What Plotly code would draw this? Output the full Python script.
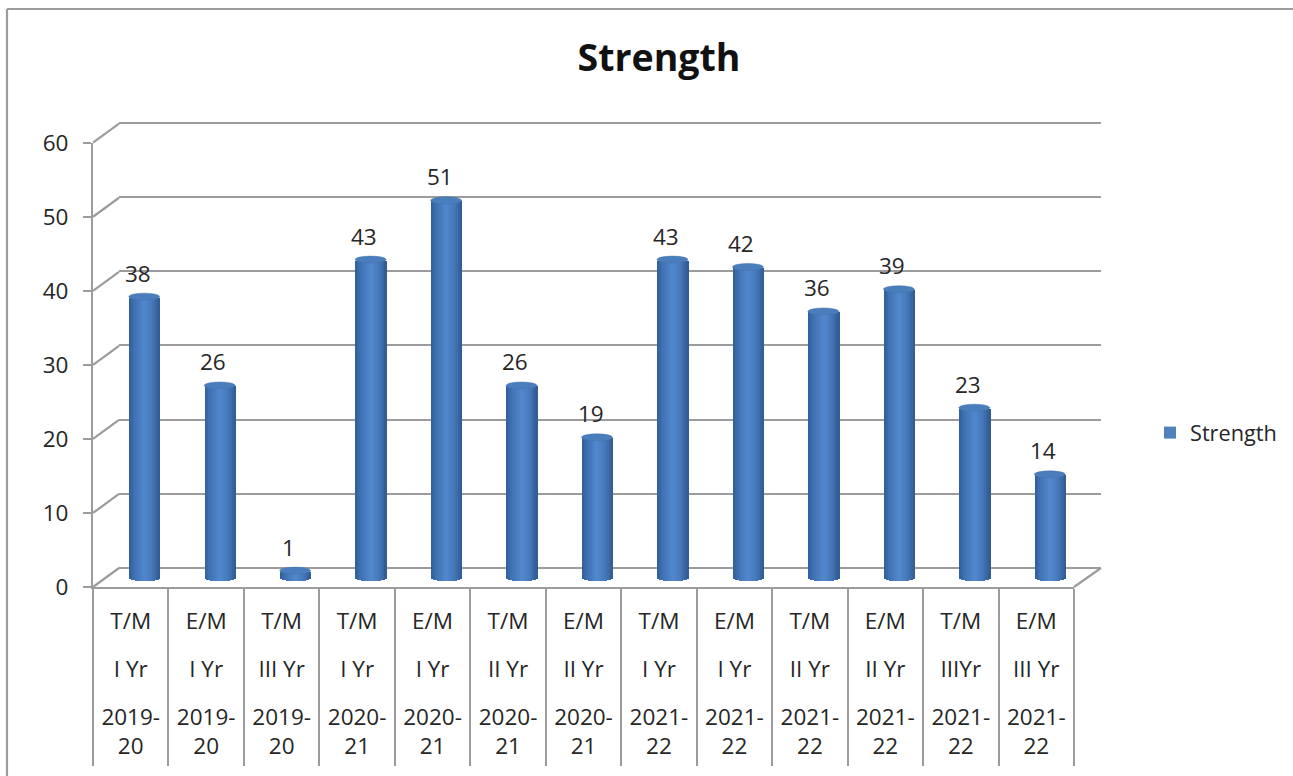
import plotly.graph_objects as go

W, H = 1293, 776
GREY = "#9c9c9c"
TEXT = "#262626"
FONT = "Open Sans"
LABEL_SIZE = 22.5

medium = ["T/M", "E/M", "T/M", "T/M", "E/M", "T/M", "E/M", "T/M", "E/M", "T/M", "E/M", "T/M", "E/M"]
year_of_study = ["I Yr", "I Yr", "III Yr", "I Yr", "I Yr", "II Yr", "II Yr", "I Yr", "I Yr", "II Yr", "II Yr", "IIIYr", "III Yr"]
session = ["2019-<br>20", "2019-<br>20", "2019-<br>20", "2020-<br>21", "2020-<br>21", "2020-<br>21", "2020-<br>21",
           "2021-<br>22", "2021-<br>22", "2021-<br>22", "2021-<br>22", "2021-<br>22", "2021-<br>22"]
strength = [38, 26, 1, 43, 51, 26, 19, 43, 42, 36, 39, 23, 14]
y_ticks = [0, 10, 20, 30, 40, 50, 60]

idx = list(range(len(strength)))
boundaries = [i - 0.5 for i in range(len(strength) + 1)]


def px(x):
    return x / W


def py(y):
    return 1 - y / H


BAR_W = 0.41          # in category units
CAP_H = 0.47          # half height of the elliptical cap in value units
N = 16
STOPS = [(0.0, (46, 94, 150)), (0.15, (62, 112, 176)), (0.5, (82, 136, 206)),
         (0.75, (70, 120, 186)), (1.0, (46, 90, 144))]
PX_PER_UNIT = 7.405


def shade(t):
    for (t0, c0), (t1, c1) in zip(STOPS, STOPS[1:]):
        if t <= t1:
            f = (t - t0) / (t1 - t0)
            return "rgb(%d,%d,%d)" % tuple(round(a + (b - a) * f) for a, b in zip(c0, c1))
    return "rgb(46,90,144)"


fig = go.Figure()

# empty traces so that every subplot and label axis exists, back wall first
fig.add_trace(go.Scatter(x=[], y=[], xaxis="x", yaxis="y", showlegend=False, hoverinfo="skip"))
fig.add_trace(go.Scatter(x=[], y=[], xaxis="x2", yaxis="y2", showlegend=False, hoverinfo="skip"))
for ax in ("x4", "x5", "x6"):
    fig.add_trace(go.Scatter(x=[], y=[], xaxis=ax, yaxis="y2", showlegend=False, hoverinfo="skip"))

# main bar, carries the legend entry
fig.add_trace(go.Bar(x=idx, y=strength, name="Strength", xaxis="x3", yaxis="y3", width=BAR_W * 0.9,
                     marker=dict(color="#4F81BD", line=dict(width=0)), showlegend=True))

# vertical strips giving the cylinder shading with curved ends
sw = BAR_W / N
for k in range(N):
    t = (k + 0.5) / N
    sag = CAP_H * (1 - (2 * t - 1) ** 2) ** 0.5
    fig.add_trace(go.Bar(x=idx, y=strength, base=[-sag] * len(idx), xaxis="x3", yaxis="y3",
                         width=sw * 1.25, offset=-BAR_W / 2 + k * sw - sw * 0.1,
                         marker=dict(color=shade(t), line=dict(width=0)),
                         showlegend=False, hoverinfo="skip"))

shapes = []
line = dict(color=GREY, width=2.2)
# chart frame
shapes.append(dict(type="line", xref="paper", yref="paper", x0=px(7), x1=px(7), y0=py(9), y1=py(776), line=line))
shapes.append(dict(type="line", xref="paper", yref="paper", x0=px(7), x1=px(1293), y0=py(9), y1=py(9), line=line))
# side wall and floor diagonals
for v in y_ticks:
    fy = 587 - v * (587 - 142.7) / 60
    shapes.append(dict(type="line", xref="paper", yref="paper", x0=px(93), x1=px(119),
                       y0=py(fy), y1=py(fy - 19), line=line))
shapes.append(dict(type="line", xref="paper", yref="paper", x0=px(1074), x1=px(1101),
                   y0=py(587), y1=py(568), line=line))
# top caps of the cylinders
for i, v in zip(idx, strength):
    shapes.append(dict(type="circle", xref="x3", yref="y3", layer="above",
                       x0=i - BAR_W / 2, x1=i + BAR_W / 2, y0=v - CAP_H, y1=v + CAP_H,
                       fillcolor="#4A7DBB", line=dict(color="#4474AE", width=0.5)))

annotations = [dict(xref="x3", yref="y3", x=i, y=v, text=str(v), showarrow=False, xanchor="center",
                    yanchor="bottom", xshift=-6.5, yshift=6, font=dict(family=FONT, size=LABEL_SIZE, color=TEXT))
               for i, v in zip(idx, strength)]

hidden = dict(showgrid=False, zeroline=False, showticklabels=False, ticks="", showline=False)
front_x = [px(93), px(1074)]
bar_range = [-0.5, len(strength) - 0.5]
row_font = dict(family=FONT, size=LABEL_SIZE, color=TEXT)

fig.update_layout(
    width=W, height=H, autosize=False,
    margin=dict(l=0, r=0, t=0, b=0, pad=0, autoexpand=False),
    paper_bgcolor="white", plot_bgcolor="rgba(0,0,0,0)",
    barmode="overlay",
    bargap=0,
    title=dict(text="<b>Strength</b>", x=px(659), xanchor="center", y=py(58), yanchor="middle",
               font=dict(family=FONT, size=37.5, color="#111111")),
    showlegend=True,
    legend=dict(x=px(1150), xanchor="left", y=py(433), yanchor="middle",
                font=dict(family=FONT, size=21.7, color=TEXT), bgcolor="rgba(0,0,0,0)"),
    # back wall: gridlines (range padded so the end lines are kept)
    xaxis=dict(domain=[px(119), px(1101)], range=[0, 1], anchor="y", **hidden),
    yaxis=dict(domain=[py(568 + 2 * PX_PER_UNIT), py(122.7 - 2 * PX_PER_UNIT)], range=[-2, 62], anchor="x",
               tickvals=y_ticks, showgrid=True, gridcolor=GREY, gridwidth=2.2, zeroline=False,
               showticklabels=False, ticks="", showline=False),
    # front wall: value axis and category dividers
    xaxis2=dict(domain=front_x, range=bar_range, anchor="y2", tickvals=boundaries, ticktext=[""] * len(boundaries),
                ticks="outside", ticklen=177, tickwidth=2.2, tickcolor=GREY, showline=True, linecolor=GREY,
                linewidth=2.2, showgrid=False, zeroline=False),
    yaxis2=dict(domain=[py(587), py(142.7)], range=[0, 60], anchor="x2", tickvals=y_ticks,
                ticks="outside", ticklen=8, tickwidth=2.2, tickcolor=GREY, showline=True, linecolor=GREY,
                linewidth=2.2, showgrid=False, zeroline=False, ticklabelstandoff=10,
                tickfont=dict(family=FONT, size=LABEL_SIZE, color=TEXT)),
    # cylinders (range reaches below zero for the curved base)
    xaxis3=dict(domain=[px(106.5), px(1087.5)], range=bar_range, anchor="y3", **hidden),
    yaxis3=dict(domain=[py(578 + PX_PER_UNIT), py(578 - 61 * PX_PER_UNIT)], range=[-1, 61], anchor="x3", **hidden),
    # three rows of category labels
    xaxis4=dict(domain=front_x, range=bar_range, anchor="free", position=py(605), overlaying="x2",
                tickvals=idx, ticktext=medium, tickfont=row_font, showgrid=False, zeroline=False,
                ticks="", showline=False),
    xaxis5=dict(domain=front_x, range=bar_range, anchor="free", position=py(653), overlaying="x2",
                tickvals=idx, ticktext=year_of_study, tickfont=row_font, showgrid=False, zeroline=False,
                ticks="", showline=False),
    xaxis6=dict(domain=front_x, range=bar_range, anchor="free", position=py(701), overlaying="x2",
                tickvals=idx, ticktext=session, tickfont=row_font, showgrid=False, zeroline=False,
                ticks="", showline=False),
    shapes=shapes,
    annotations=annotations,
)

fig.write_html("out.html", config={"displayModeBar": False}, post_script="document.body.style.margin='0';")
